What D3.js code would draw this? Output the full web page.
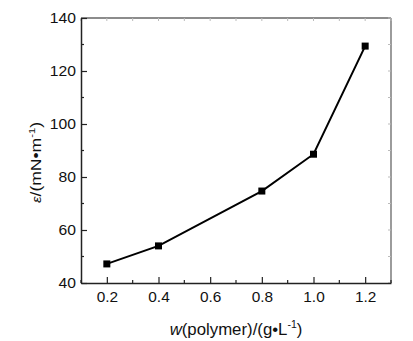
<!DOCTYPE html>
<html>
<head>
<meta charset="utf-8">
<script src="https://cdn.jsdelivr.net/npm/d3@7"></script>
<style>
  html, body { margin: 0; padding: 0; background: #fff; }
  svg text { font-family: "Liberation Sans", Arial, sans-serif; fill: #111; }
</style>
</head>
<body>
<svg id="chart" width="413" height="341"></svg>
<script>
// Polymer concentration (g/L) and the measured modulus (mN/m)
const concentration = [0.2, 0.4, 0.8, 1.0, 1.2];
const modulus = [47.2, 54.0, 74.7, 88.6, 129.4];
const xTicks = [0.2, 0.4, 0.6, 0.8, 1.0, 1.2];
const yTicks = [40, 60, 80, 100, 120, 140];

const svg = d3.select("#chart");
const plotL = 81, plotR = 391, plotT = 18, plotB = 283;

const x = d3.scaleLinear().domain([0.1, 1.3]).range([plotL, plotR]);
const y = d3.scaleLinear().domain([40, 140]).range([plotB, plotT]);

const minorX = d3.range(0.1, 1.31, 0.1).map(v => +v.toFixed(1));
const minorY = d3.range(40, 141, 10);

// frame: top and right edges drawn lighter
svg.append("line").attr("x1", plotL).attr("x2", plotR).attr("y1", plotT).attr("y2", plotT)
  .attr("stroke", "#666").attr("stroke-width", 1.3);
svg.append("line").attr("x1", plotR).attr("x2", plotR).attr("y1", plotT).attr("y2", plotB)
  .attr("stroke", "#666").attr("stroke-width", 1.3);

// faint ticks on top and right edges
svg.append("g").selectAll("line").data(minorX).join("line")
  .attr("x1", d => x(d)).attr("x2", d => x(d))
  .attr("y1", plotT).attr("y2", plotT + 3)
  .attr("stroke", "#bbb").attr("stroke-width", 1);
svg.append("g").selectAll("line").data(minorY).join("line")
  .attr("x1", plotR).attr("x2", plotR - 3)
  .attr("y1", d => y(d)).attr("y2", d => y(d))
  .attr("stroke", "#bbb").attr("stroke-width", 1);

// bottom axis: major ticks inward with labels, minor ticks between
const xAxis = d3.axisBottom(x).tickValues(xTicks).tickFormat(d3.format(".1f"))
  .tickSizeInner(-6).tickSizeOuter(0).tickPadding(9);
const gx = svg.append("g").attr("transform", `translate(0,${plotB})`).call(xAxis);
gx.select(".domain").attr("stroke", "#222").attr("stroke-width", 1.5);
gx.selectAll(".tick line").attr("stroke", "#222").attr("stroke-width", 1.2);
gx.selectAll(".tick text").attr("font-size", 14).attr("fill", "#111")
  .attr("transform", "scale(1.1,1)");
svg.append("g").selectAll("line").data(minorX.filter(v => !xTicks.some(t => Math.abs(t - v) < 1e-6)))
  .join("line")
  .attr("x1", d => x(d)).attr("x2", d => x(d))
  .attr("y1", plotB).attr("y2", plotB - 3)
  .attr("stroke", "#222").attr("stroke-width", 1.2);

// left axis
const yAxis = d3.axisLeft(y).tickValues(yTicks)
  .tickSizeInner(-6).tickSizeOuter(0).tickPadding(4.5);
const gy = svg.append("g").attr("transform", `translate(${plotL},0)`).call(yAxis);
gy.select(".domain").attr("stroke", "#222").attr("stroke-width", 1.5);
gy.selectAll(".tick line").attr("stroke", "#222").attr("stroke-width", 1.2);
gy.selectAll(".tick text").attr("font-size", 14).attr("fill", "#111")
  .attr("transform", "scale(1.12,1)");
svg.append("g").selectAll("line").data(minorY.filter(v => !yTicks.includes(v)))
  .join("line")
  .attr("x1", plotL).attr("x2", plotL + 3)
  .attr("y1", d => y(d)).attr("y2", d => y(d))
  .attr("stroke", "#222").attr("stroke-width", 1.2);

// data line and square markers
const pts = concentration.map((c, i) => [c, modulus[i]]);
svg.append("path").datum(pts)
  .attr("fill", "none").attr("stroke", "#000").attr("stroke-width", 2)
  .attr("d", d3.line().x(d => x(d[0])).y(d => y(d[1])));
svg.append("g").selectAll("rect").data(pts).join("rect")
  .attr("x", d => x(d[0]) - 3.5).attr("y", d => y(d[1]) - 3.5)
  .attr("width", 7).attr("height", 7).attr("fill", "#000");

// axis titles
const xt = svg.append("text")
  .attr("transform", `translate(${(plotL + plotR) / 2},335) scale(1.05,1)`)
  .attr("text-anchor", "middle").attr("font-size", 16);
xt.append("tspan").attr("font-style", "italic").text("w");
xt.append("tspan").text("(polymer)/(g•L");
xt.append("tspan").attr("font-size", 10).attr("dy", -7).text("-1");
xt.append("tspan").attr("dy", 7).text(")");

const yt = svg.append("text")
  .attr("transform", "translate(41,162.5) rotate(-90) scale(1.25,1)")
  .attr("text-anchor", "middle").attr("font-size", 14);
yt.append("tspan").attr("font-style", "italic").attr("font-size", 12).text("ε");
yt.append("tspan").text("/(mN•m");
yt.append("tspan").attr("font-size", 9).attr("dy", -6).text("-1");
yt.append("tspan").attr("dy", 6).text(")");
</script>
</body>
</html>
